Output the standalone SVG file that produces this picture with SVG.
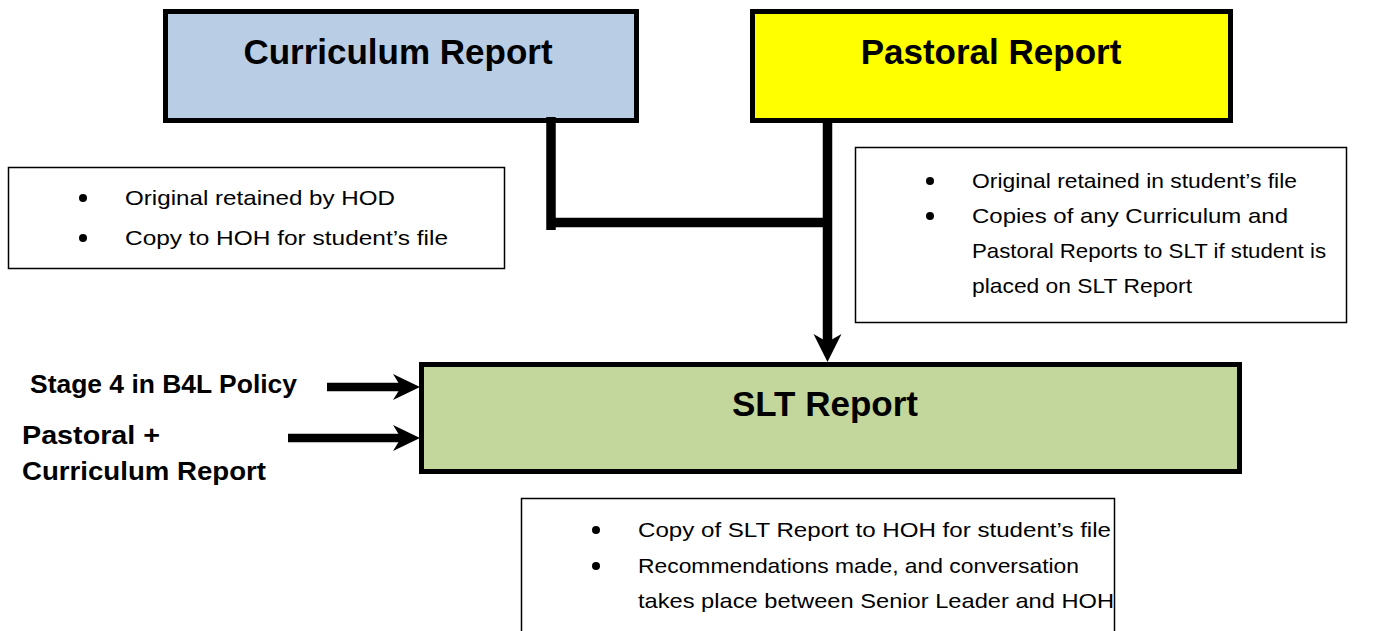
<svg xmlns="http://www.w3.org/2000/svg" width="1379" height="631" viewBox="0 0 1379 631">
<style>
.box{stroke:#000;stroke-width:5}
.note{fill:#fff;stroke:#000;stroke-width:1.5}
.title{font-family:"Liberation Sans",Arial,sans-serif;font-weight:bold;font-size:35px;fill:#000;text-anchor:middle}
.lbl{font-family:"Liberation Sans",Arial,sans-serif;font-weight:bold;font-size:25px;fill:#000}
.txt{font-family:"Liberation Sans",Arial,sans-serif;font-size:21px;fill:#000}
.conn{fill:none;stroke:#000;stroke-width:9.5}
.head{fill:#000;stroke:none}
</style>
<rect width="1379" height="631" fill="#fff"/>
<g id="curriculum">
<rect class="box" x="165.5" y="11.5" width="471" height="109" fill="#B9CDE5"/>
<text class="title" x="398" y="64">Curriculum Report</text>
</g>
<g id="pastoral">
<rect class="box" x="752.5" y="11.5" width="478" height="109" fill="#FFFF00"/>
<text class="title" x="991" y="64">Pastoral Report</text>
</g>
<g id="slt">
<rect class="box" x="421.5" y="364.5" width="818" height="107" fill="#C3D69B"/>
<text class="title" x="825" y="416">SLT Report</text>
</g>
<g id="note-curriculum">
<rect class="note" x="8.5" y="167.5" width="496" height="101"/>
<circle cx="83" cy="198" r="4"/>
<circle cx="83" cy="238" r="4"/>
<text class="txt" x="125" y="205" textLength="270" lengthAdjust="spacingAndGlyphs">Original retained by HOD</text>
<text class="txt" x="125" y="245" textLength="323" lengthAdjust="spacingAndGlyphs">Copy to HOH for student’s file</text>
</g>
<g id="note-pastoral">
<rect class="note" x="855.5" y="147.5" width="491" height="175"/>
<circle cx="930" cy="181" r="4"/>
<circle cx="930" cy="216" r="4"/>
<text class="txt" x="972" y="188" textLength="325" lengthAdjust="spacingAndGlyphs">Original retained in student’s file</text>
<text class="txt" x="972" y="223" textLength="316" lengthAdjust="spacingAndGlyphs">Copies of any Curriculum and</text>
<text class="txt" x="972" y="258" textLength="354" lengthAdjust="spacingAndGlyphs">Pastoral Reports to SLT if student is</text>
<text class="txt" x="972" y="293" textLength="220" lengthAdjust="spacingAndGlyphs">placed on SLT Report</text>
</g>
<g id="note-slt">
<path class="note" d="M521.5,640 V498.5 H1114.5 V640"/>
<circle cx="596" cy="530" r="4"/>
<circle cx="596" cy="566" r="4"/>
<text class="txt" x="638" y="537" textLength="473" lengthAdjust="spacingAndGlyphs">Copy of SLT Report to HOH for student’s file</text>
<text class="txt" x="638" y="573" textLength="441" lengthAdjust="spacingAndGlyphs">Recommendations made, and conversation</text>
<text class="txt" x="638" y="608" textLength="476" lengthAdjust="spacingAndGlyphs">takes place between Senior Leader and HOH</text>
</g>
<g id="input-stage4">
<text class="lbl" x="30" y="393" textLength="267" lengthAdjust="spacingAndGlyphs">Stage 4 in B4L Policy</text>
</g>
<g id="input-reports">
<text class="lbl" x="22" y="444" textLength="138" lengthAdjust="spacingAndGlyphs">Pastoral +</text>
<text class="lbl" x="22" y="480" textLength="244" lengthAdjust="spacingAndGlyphs">Curriculum Report</text>
</g>
<g id="connectors">
<path class="conn" d="M551,117 V230"/>
<path class="conn" d="M551,222.5 H832"/>
<path class="conn" d="M827.5,123 V345"/>
<path class="head" d="M813.5,334 L827.5,342 L841.5,334 L827.5,362 Z"/>
<path class="conn" d="M327,387 H403" style="stroke-width:8.5"/>
<path class="head" d="M393,374 L401,387 L393,400 L420,387 Z"/>
<path class="conn" d="M288,438 H403" style="stroke-width:8.5"/>
<path class="head" d="M393,425 L401,438 L393,451 L420,438 Z"/>
</g>
</svg>
